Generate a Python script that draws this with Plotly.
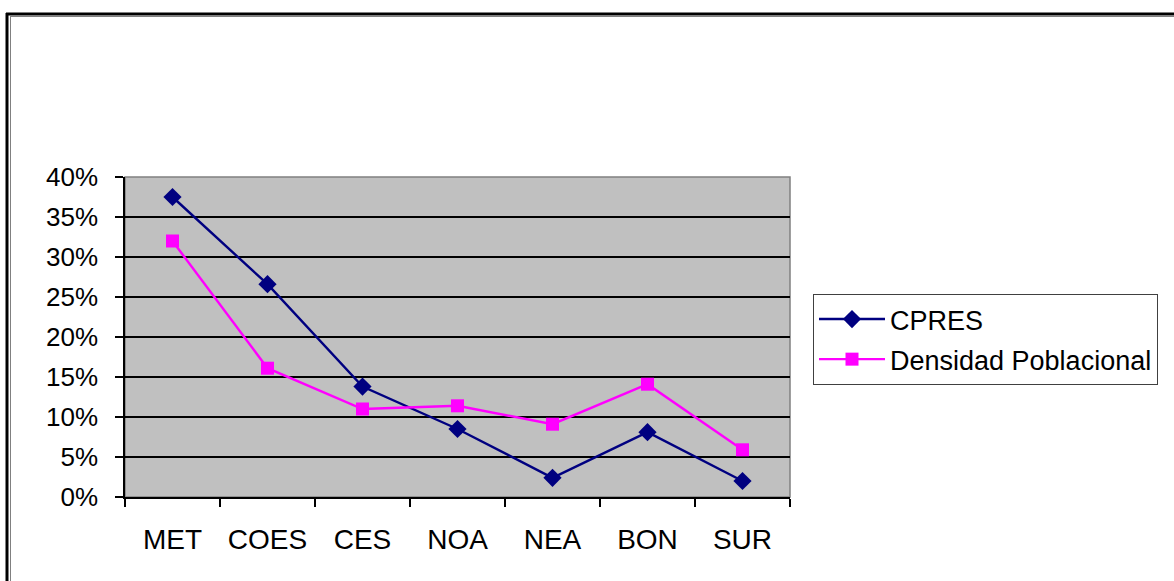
import plotly.graph_objects as go

categories = ["MET", "COES", "CES", "NOA", "NEA", "BON", "SUR"]
cpres = [0.375, 0.266, 0.138, 0.085, 0.024, 0.081, 0.020]
densidad = [0.320, 0.161, 0.110, 0.114, 0.091, 0.141, 0.059]
y_ticks = [0, 0.05, 0.10, 0.15, 0.20, 0.25, 0.30, 0.35, 0.40]
y_labels = ["0%", "5%", "10%", "15%", "20%", "25%", "30%", "35%", "40%"]

W, H = 1174, 581
L, R, T, B = 125, 790, 177, 497

def px(x):
    return (x - L) / (R - L)

def py(y):
    return (B - y) / (B - T)

fig = go.Figure()
fig.add_trace(go.Scatter(
    x=categories, y=cpres, name="CPRES", mode="lines+markers",
    line=dict(color="#000080", width=2.4),
    marker=dict(symbol="diamond", size=14, color="#000080"),
    legendgroup="a",
))
fig.add_trace(go.Scatter(
    x=categories, y=densidad, name="Densidad Poblacional", mode="lines+markers",
    line=dict(color="#FF00FF", width=2.4),
    marker=dict(symbol="square", size=13, color="#FF00FF"),
    legendgroup="b",
))

font = "Liberation Sans, Arial, sans-serif"

fig.update_layout(
    width=W, height=H,
    margin=dict(l=L, r=W - R, t=T, b=H - B, pad=0),
    paper_bgcolor="white",
    plot_bgcolor="#C0C0C0",
    font=dict(family=font, size=26, color="black"),
    showlegend=True,
    legend=dict(
        x=px(813), y=py(294), xanchor="left", yanchor="top",
        bgcolor="white", bordercolor="#404040", borderwidth=1,
        font=dict(family=font, size=27, color="black"),
        tracegroupgap=2, itemwidth=66,
    ),
    xaxis=dict(
        type="category", tickson="boundaries", ticks="outside", ticklen=8,
        tickcolor="black", tickwidth=1.5, showline=True, linecolor="black",
        linewidth=1.5, showgrid=False, range=[-0.5, 6.5],
        ticklabelstandoff=17, tickfont=dict(size=28),
    ),
    yaxis=dict(
        range=[0, 0.4], tickvals=y_ticks, ticktext=y_labels,
        ticks="outside", ticklen=8, tickcolor="black", tickwidth=1.5,
        showline=True, linecolor="black", linewidth=1.5,
        showgrid=True, gridcolor="black", gridwidth=1.5,
        zeroline=False, tickfont=dict(size=26), ticklabelstandoff=12,
    ),
    shapes=[
        dict(type="rect", xref="paper", yref="paper", x0=0, x1=1, y0=0, y1=1,
             line=dict(color="#808080", width=1.5), layer="below"),
        dict(type="line", xref="paper", yref="paper", x0=px(7), x1=px(7),
             y0=py(13), y1=py(600), line=dict(color="black", width=3)),
        dict(type="line", xref="paper", yref="paper", x0=px(10.5), x1=px(10.5),
             y0=py(16), y1=py(600), line=dict(color="#808080", width=1)),
        dict(type="line", xref="paper", yref="paper", x0=px(6), x1=px(1200),
             y0=py(14), y1=py(14), line=dict(color="black", width=3)),
        dict(type="line", xref="paper", yref="paper", x0=px(10), x1=px(1200),
             y0=py(16.5), y1=py(16.5), line=dict(color="#808080", width=1)),
    ],
)

fig.write_html("out.html", config={"displayModeBar": False},
               post_script="document.body.style.margin='0px';")
